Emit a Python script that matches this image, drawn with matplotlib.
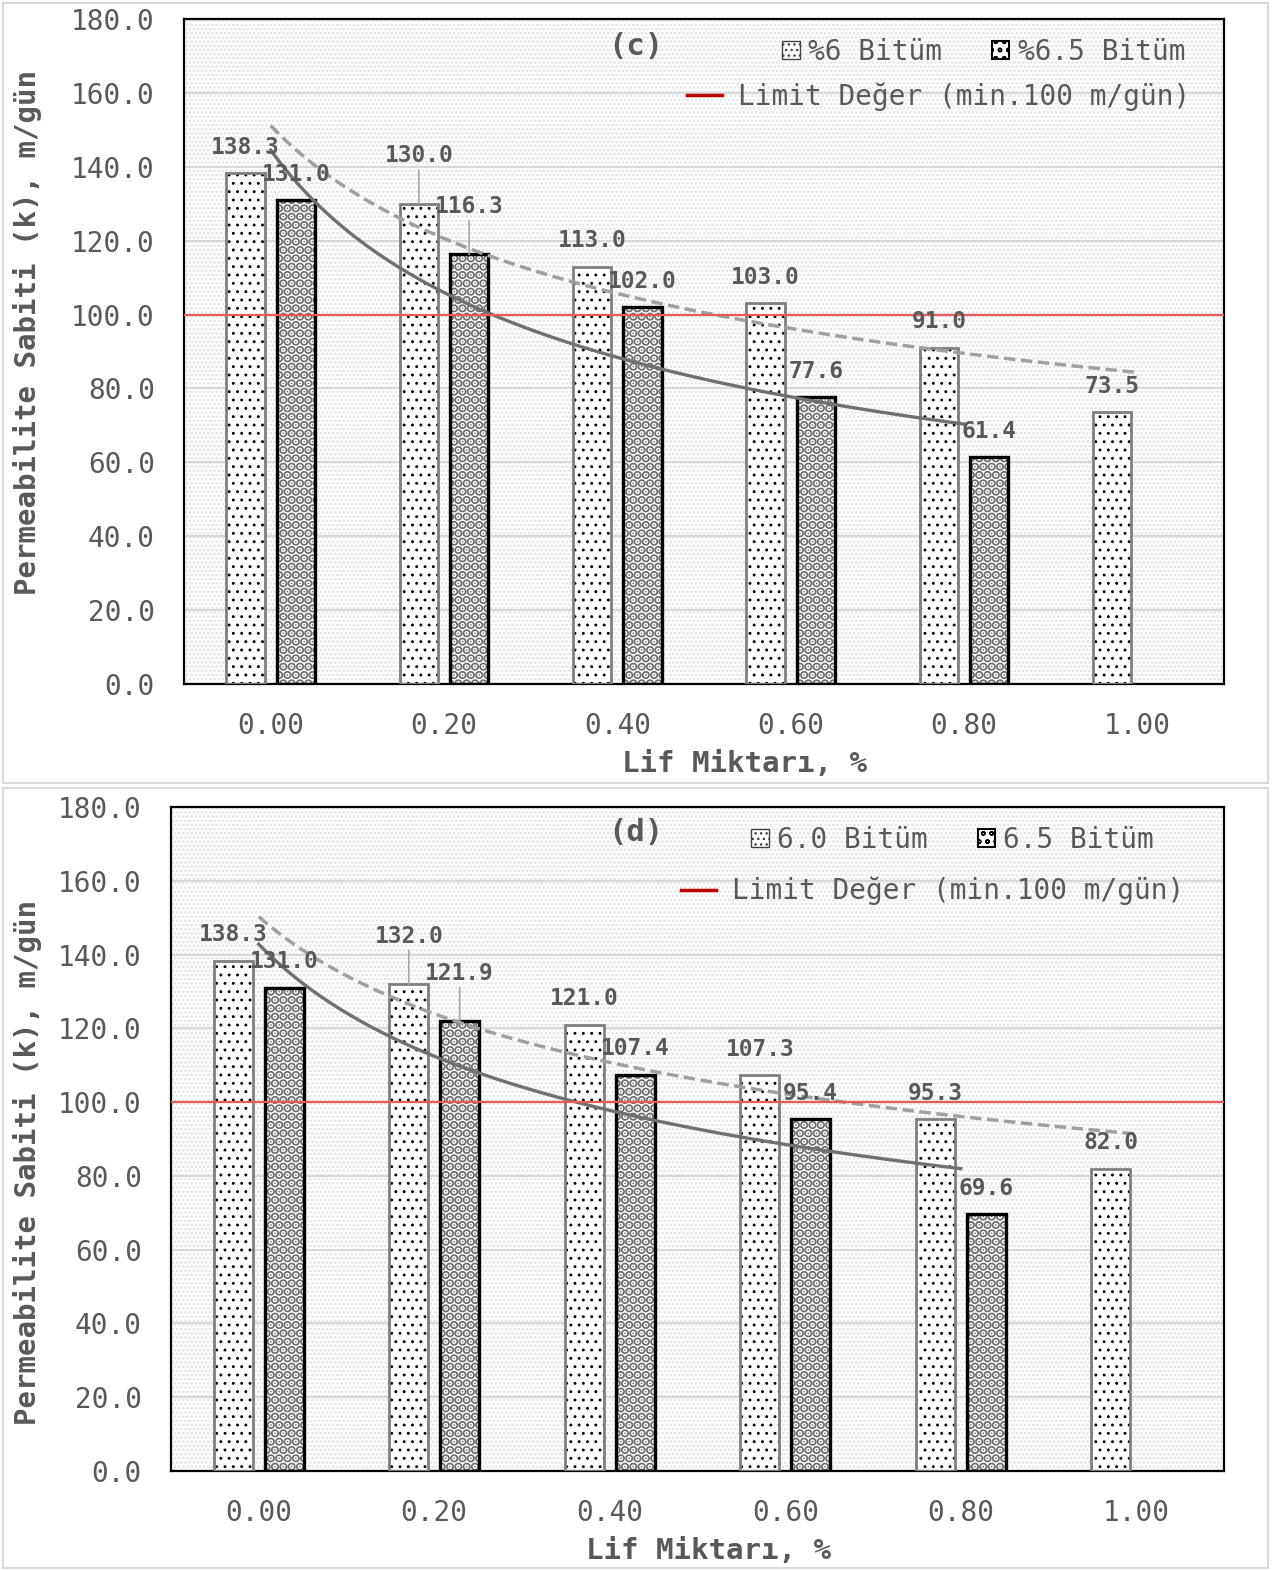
import numpy as np
import matplotlib
matplotlib.use('Agg')
import matplotlib.pyplot as plt
from matplotlib.patches import Patch, Rectangle
from matplotlib.lines import Line2D

plt.rcParams['font.family'] = ['DejaVu Sans Mono', 'DejaVu Sans']

categories = ['0.00', '0.20', '0.40', '0.60', '0.80', '1.00']
y_ticks = [0, 20, 40, 60, 80, 100, 120, 140, 160, 180]
limit = 100.0

# panel (c)
c_b60 = [138.3, 130.0, 113.0, 103.0, 91.0, 73.5]
c_b65 = [131.0, 116.3, 102.0, 77.6, 61.4]
c_names = ['%6 Bitüm', '%6.5 Bitüm']

# panel (d)
d_b60 = [138.3, 132.0, 121.0, 107.3, 95.3, 82.0]
d_b65 = [131.0, 121.9, 107.4, 95.4, 69.6]
d_names = ['6.0 Bitüm', '6.5 Bitüm']

limit_name = 'Limit Değer (min.100 m/gün)'
xlabel = 'Lif Miktarı, %'
ylabel = 'Permeabilite Sabiti (k), m/gün'

TXT = '#595959'
W = 1278
H = 1570


def hatched_bar(ax, x, vals, hatch, hcolor, edge, lw, hlw):
    bars = ax.bar(x, vals, width=0.22, color='white', edgecolor=hcolor,
                  hatch=hatch, linewidth=0, zorder=2)
    for b in bars:
        if hasattr(b, 'set_hatch_linewidth'):
            b.set_hatch_linewidth(hlw)
    ax.bar(x, vals, width=0.22, fill=False, edgecolor=edge, linewidth=lw, zorder=3)


def power_trend(ax, vals, **kw):
    xi = np.arange(1, len(vals) + 1)
    b, a = np.polyfit(np.log(xi), np.log(vals), 1)
    xs = np.linspace(1, len(vals), 200)
    ax.plot(xs - 1, np.exp(a) * xs ** b, zorder=4, **kw)


def label(ax, x, v, lead):
    if lead:
        ax.annotate(f'{v:.1f}', (x, v), xytext=(0, 34.5), textcoords='offset points',
                    ha='center', va='center', fontsize=16.5, fontweight='bold', color=TXT,
                    zorder=6, arrowprops=dict(arrowstyle='-', color='#a6a6a6', lw=1.2,
                                              shrinkA=0, shrinkB=0))
    else:
        ax.annotate(f'{v:.1f}', (x, v), xytext=(0, 18.7), textcoords='offset points',
                    ha='center', va='center', fontsize=16.5, fontweight='bold', color=TXT,
                    zorder=6)


def panel(fig, rect, b60, b65, names, tag, xl, yl, leg1, leg2, tagpos):
    ax = fig.add_axes(rect)
    bg = Rectangle((0, 0), 1, 1, transform=ax.transAxes, facecolor='white',
                   edgecolor='#e3e3e3', hatch='....', linewidth=0, zorder=0.1)
    ax.add_patch(bg)
    if hasattr(bg, 'set_hatch_linewidth'):
        bg.set_hatch_linewidth(1.3)
    ax.set_axisbelow(True)
    ax.yaxis.grid(True, color='#d9d9d9', lw=1.5, zorder=0.5)

    x = np.arange(len(categories))
    x60 = x[:len(b60)] - 0.145
    x65 = x[:len(b65)] + 0.145
    hatched_bar(ax, x60, b60, '..', 'black', '#7f7f7f', 2.0, 0.9)
    hatched_bar(ax, x65, b65, '..', '#6e6e6e', 'black', 2.4, 4.6)

    ax.axhline(limit, color='#e85a5a', lw=1.6, zorder=4.5)
    power_trend(ax, b60, color='#a0a0a0', lw=2.5, linestyle=(0, (3.3, 1.6)))
    power_trend(ax, b65, color='#707070', lw=2.4)

    for i, v in enumerate(b60):
        label(ax, x60[i], v, i == 1)
    for i, v in enumerate(b65):
        label(ax, x65[i], v, i == 1)

    ax.set_xlim(-0.5, len(categories) - 0.5)
    ax.set_ylim(0, 180)
    ax.set_xticks(x)
    ax.set_xticklabels(categories)
    ax.set_yticks(y_ticks)
    ax.set_yticklabels([f'{t:.1f}' for t in y_ticks])
    ax.tick_params(axis='both', length=0, labelsize=20, labelcolor=TXT)
    ax.tick_params(axis='x', pad=20)
    ax.tick_params(axis='y', pad=21)
    for s in ax.spines.values():
        s.set_linewidth(1.6)
        s.set_color('black')

    ax.set_xlabel(xlabel, fontsize=21, fontweight='bold', color=TXT)
    ax.xaxis.set_label_coords(*xl)
    ax.set_ylabel(ylabel, fontsize=21, fontweight='bold', color=TXT)
    ax.yaxis.set_label_coords(*yl)

    ax.text(tagpos[0], tagpos[1], tag, transform=ax.transAxes, ha='center', va='center',
            fontsize=22, fontweight='bold', color=TXT)

    h1 = Patch(facecolor='white', edgecolor='#404040', hatch='...', linewidth=1)
    h2 = Patch(facecolor='white', edgecolor='black', hatch='oo', linewidth=1.5)
    lg = ax.legend([h1, h2], names, loc='center right', bbox_to_anchor=leg1, ncol=2,
                   frameon=False, fontsize=20, handlelength=0.62, handleheight=0.62,
                   handletextpad=0.3, columnspacing=1.8, borderpad=0, borderaxespad=0,
                   labelcolor=TXT)
    ax.add_artist(lg)
    ax.legend([Line2D([], [], color='#c00000', lw=2.5)], [limit_name], loc='center right',
              bbox_to_anchor=leg2, frameon=False, fontsize=20, handlelength=1.26,
              handletextpad=0.58, borderpad=0, borderaxespad=0, labelcolor=TXT)
    return ax


fig = plt.figure(figsize=(W / 100, H / 100), dpi=100)

for (x0, y0, x1, y1) in [(3, 3, 1268, 783), (3, 788, 1268, 1568)]:
    fig.add_artist(Rectangle((x0 / W, 1 - y1 / H), (x1 - x0) / W, (y1 - y0) / H,
                             transform=fig.transFigure, fill=False,
                             edgecolor='#d9d9d9', lw=1.5))

panel(fig, [184 / W, 1 - 684 / H, (1224 - 184) / W, (684 - 19) / H],
      c_b60, c_b65, c_names, '(c)', (0.539, -0.099), (-0.137, 0.529),
      (0.9625, 0.950), (0.968, 0.883), (0.4346, 0.958))

panel(fig, [171 / W, 1 - 1471 / H, (1224 - 171) / W, (1471 - 807) / H],
      d_b60, d_b65, d_names, '(d)', (0.51, -0.0994), (-0.1225, 0.465),
      (0.9335, 0.950), (0.962, 0.8735), (0.4416, 0.961))

fig.savefig('out.png', dpi=100)
